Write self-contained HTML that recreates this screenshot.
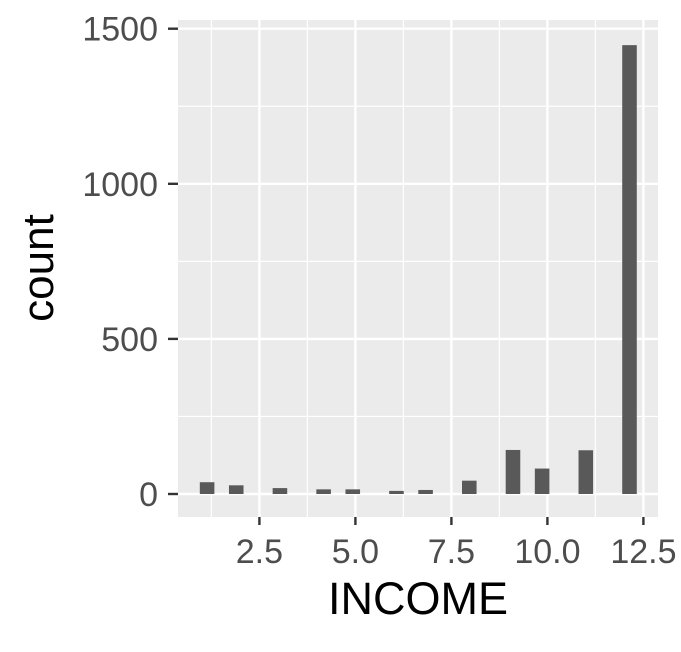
<!DOCTYPE html>
<html><head><meta charset="utf-8"><style>
body{margin:0;background:#fff;}
svg text{font-family:"Liberation Sans",Arial,sans-serif;}
</style></head><body>
<svg id="chart" width="681" height="647" xmlns="http://www.w3.org/2000/svg">
<rect x="178" y="20" width="480" height="497" fill="#ebebeb"/>
<g id="grid"></g>
<g id="bars"></g>
<g id="axes"></g>
<text x="418" y="614" font-size="45" text-anchor="middle" fill="#000">INCOME</text>
<text transform="translate(53,268) rotate(-90)" font-size="44" text-anchor="middle" fill="#000">count</text>
</svg>
<script>
const incomeValues = [1,2,3,4,5,6,7,8,9,10,11,12];
const counts = [38,28,19,15,15,10,13,43,142,82,141,1447];
const xTicks = [2.5,5.0,7.5,10.0,12.5];
const xTickLabels = ["2.5","5.0","7.5","10.0","12.5"];
const yTicks = [0,500,1000,1500];
const yTickLabels = ["0","500","1000","1500"];
const binWidth = 11/29;

const NS="http://www.w3.org/2000/svg";
const pLeft=178,pRight=658,pTop=20,pBottom=517;
const xMin=0.38,xMax=12.88;
const xs=v=>pLeft+(v-xMin)/(xMax-xMin)*(pRight-pLeft);
const y0=494,yPx=465.3/1500;
const ys=v=>y0-v*yPx;
function mk(tag,attrs,parent){const e=document.createElementNS(NS,tag);for(const k in attrs)e.setAttribute(k,attrs[k]);parent.appendChild(e);return e;}
const grid=document.getElementById('grid'),bars=document.getElementById('bars'),axes=document.getElementById('axes');
for(let i=0;i<xTicks.length;i++){const m=xTicks[i]-1.25;const l=mk('line',{x1:xs(m),x2:xs(m),y1:pTop,y2:pBottom,stroke:'#fff','stroke-width':1.2},grid);

}
for(let i=0;i<yTicks.length-1;i++){const m=(yTicks[i]+yTicks[i+1])/2;const l=mk('line',{x1:pLeft,x2:pRight,y1:ys(m),y2:ys(m),stroke:'#fff','stroke-width':1.2},grid);

}
xTicks.forEach((t,i)=>{const l=mk('line',{x1:xs(t),x2:xs(t),y1:pTop,y2:pBottom,stroke:'#fff','stroke-width':2.4},grid);


const tk=mk('line',{x1:xs(t),x2:xs(t),y1:pBottom,y2:pBottom+8,stroke:'#333','stroke-width':2.4},axes);


const tx=mk('text',{x:xs(t),y:pBottom+46,'font-size':34,'text-anchor':'middle',fill:'#4d4d4d'},axes);tx.textContent=xTickLabels[i];

});
yTicks.forEach((t,i)=>{const l=mk('line',{x1:pLeft,x2:pRight,y1:ys(t),y2:ys(t),stroke:'#fff','stroke-width':2.4},grid);


const tk=mk('line',{x1:pLeft-10,x2:pLeft,y1:ys(t),y2:ys(t),stroke:'#333','stroke-width':2.4},axes);


const tx=mk('text',{x:pLeft-20,y:ys(t)+12,'font-size':34,'text-anchor':'end',fill:'#4d4d4d'},axes);tx.textContent=yTickLabels[i];

});
incomeValues.forEach((v,i)=>{const c=Math.round(v/binWidth)*binWidth;const x1=xs(c-binWidth/2),x2=xs(c+binWidth/2);
const r=mk('rect',{x:x1,y:ys(counts[i]),width:x2-x1,height:ys(0)-ys(counts[i]),fill:'#595959'},bars);

});
</script>
</body></html>
